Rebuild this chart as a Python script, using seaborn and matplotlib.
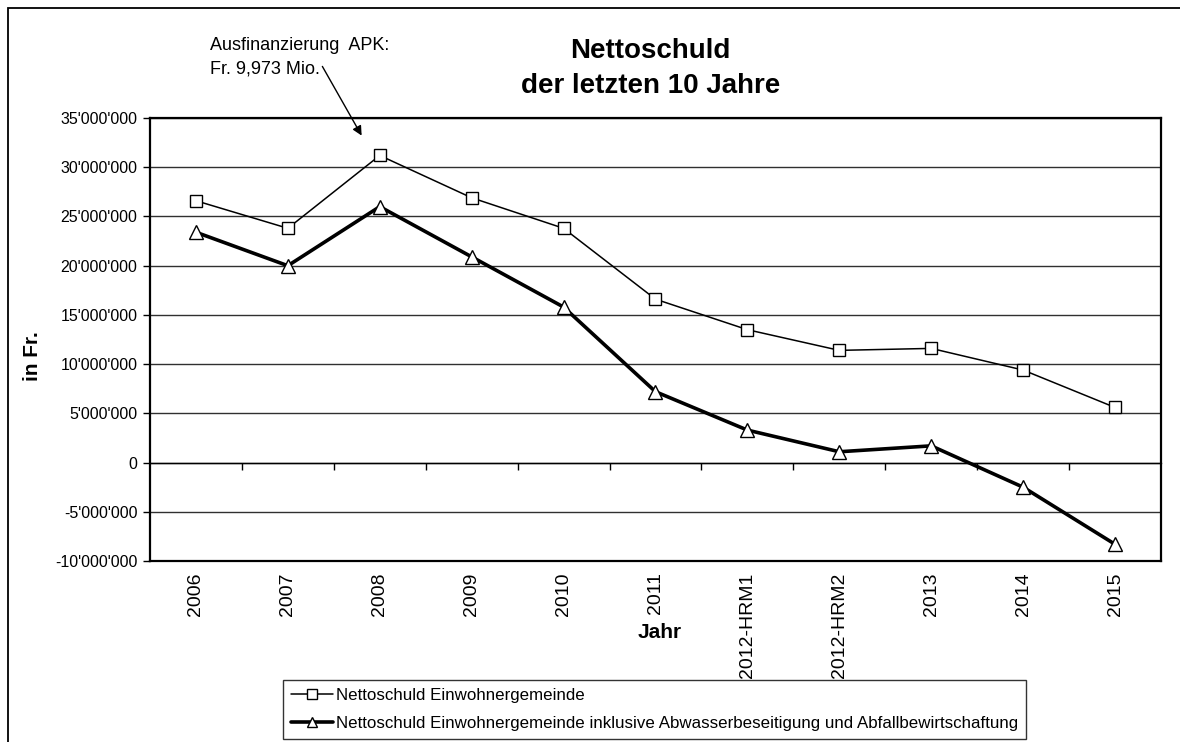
import pandas as pd
import matplotlib
matplotlib.use("Agg")
from matplotlib import pyplot as plt
from matplotlib.patches import Rectangle
import seaborn as sns

# data (in Fr.)
years = ["2006", "2007", "2008", "2009", "2010", "2011",
         "2012-HRM1", "2012-HRM2", "2013", "2014", "2015"]
ewg = [26.6e6, 23.8e6, 31.2e6, 26.9e6, 23.8e6, 16.6e6,
       13.5e6, 11.4e6, 11.6e6, 9.4e6, 5.6e6]
ewg_inkl = [23.4e6, 20.0e6, 26.0e6, 20.9e6, 15.8e6, 7.2e6,
            3.3e6, 1.1e6, 1.7e6, -2.5e6, -8.3e6]
label_ewg = "Nettoschuld Einwohnergemeinde"
label_inkl = "Nettoschuld Einwohnergemeinde inklusive Abwasserbeseitigung und Abfallbewirtschaftung"
y_ticks = [-10e6, -5e6, 0, 5e6, 10e6, 15e6, 20e6, 25e6, 30e6, 35e6]

sns.set_style("white")
plt.rcParams['font.family'] = ['Liberation Sans', 'DejaVu Sans']
plt.rcParams.update({"text.color": "black", "axes.labelcolor": "black",
                     "xtick.color": "black", "ytick.color": "black"})

df = pd.DataFrame({"Jahr": years, "ewg": ewg, "inkl": ewg_inkl})

fig = plt.figure(figsize=(11.8, 7.42), dpi=100)
ax = fig.add_axes([0.1271, 0.2439, 0.8568, 0.5970])

sns.lineplot(data=df, x="Jahr", y="ewg", ax=ax, sort=False, color="black",
             lw=1.1, marker="s", markersize=9, markerfacecolor="white",
             markeredgecolor="black", markeredgewidth=1, label=label_ewg)
sns.lineplot(data=df, x="Jahr", y="inkl", ax=ax, sort=False, color="black",
             lw=2.6, marker="^", markersize=9.5, markerfacecolor="white",
             markeredgecolor="black", markeredgewidth=1, label=label_inkl)

ax.set_xlim(-0.5, len(years) - 0.5)
ax.set_ylim(-10e6, 35e6)
ax.set_yticks(y_ticks)
ax.set_yticklabels([f"{v:,.0f}".replace(",", "'") for v in y_ticks], fontsize=11.5)
ax.tick_params(axis="y", direction="out", length=5, width=1, pad=4, left=True)
ax.tick_params(axis="x", length=0, pad=8, labelsize=14, labelrotation=90)
ax.grid(axis="y", color="#303030", lw=1)
ax.set_axisbelow(True)
for s in ax.spines.values():
    s.set_color("black")
    s.set_linewidth(1.6)

ax.set_xlabel("")
ax.set_ylabel("in Fr.", fontsize=15, fontweight="bold")
ax.yaxis.set_label_coords(-0.107, 0.463)

# category tick marks on the zero line
ax2 = ax.twiny()
ax2.set_xlim(ax.get_xlim())
ax2.set_xticks([i + 0.5 for i in range(len(years) - 1)])
ax2.xaxis.set_ticks_position("bottom")
ax2.spines["bottom"].set_position(("data", 0))
ax2.tick_params(axis="x", direction="out", length=5, width=1, labelbottom=False,
                labeltop=False, top=False, color="black")
for k in ["top", "left", "right"]:
    ax2.spines[k].set_visible(False)
ax2.spines["bottom"].set_color("black")
ax2.spines["bottom"].set_linewidth(1)

handles, labels = ax.get_legend_handles_labels()
ax.get_legend().remove()
leg = fig.legend(handles, labels, loc="upper left",
                 bbox_to_anchor=(283 / 1180, 1 - 680 / 742), fontsize=12.2,
                 frameon=True, fancybox=False, edgecolor="black",
                 handlelength=2.5, handletextpad=0.2, labelspacing=0.8,
                 borderpad=0.45, borderaxespad=0, markerscale=0.75)
leg.get_frame().set_linewidth(1)

fig.text(0.551, 1 - 38 / 742, "Nettoschuld\nder letzten 10 Jahre", ha="center",
         va="top", fontsize=20, fontweight="bold", linespacing=1.45)
fig.text(0.559, 1 - 633 / 742, "Jahr", ha="center", va="center",
         fontsize=15, fontweight="bold")

ax.annotate("Ausfinanzierung  APK:\nFr. 9,973 Mio.", xy=(363 / 1180, 1 - 138 / 742),
            xycoords="figure fraction", xytext=(210 / 1180, 1 - 37 / 742),
            textcoords="figure fraction", ha="left", va="top", fontsize=13,
            linespacing=1.5, annotation_clip=False)
ax.annotate("", xy=(363 / 1180, 1 - 138 / 742), xycoords="figure fraction",
            xytext=(321 / 1180, 1 - 64 / 742), textcoords="figure fraction",
            arrowprops=dict(arrowstyle="-|>", color="black", lw=1,
                            mutation_scale=14), annotation_clip=False)

frame = Rectangle((8 / 1180, -0.05), 1.1, 1 - 8 / 742 + 0.05,
                  transform=fig.transFigure, fill=False, lw=1.3,
                  edgecolor="black", clip_on=False)
fig.patches.append(frame)

fig.savefig("out.png", dpi=100)
